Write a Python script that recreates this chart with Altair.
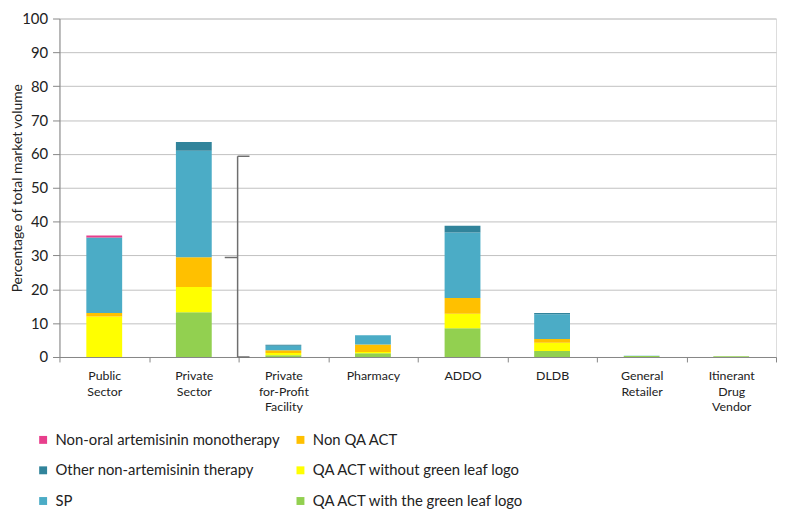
import altair as alt
import pandas as pd

categories = ["Public|Sector", "Private|Sector", "Private|for-Profit|Facility", "Pharmacy",
              "ADDO", "DLDB", "General|Retailer", "Itinerant|Drug|Vendor"]

qa_act_green = [0.0, 13.2, 0.5, 1.1, 8.5, 1.8, 0.3, 0.2]
qa_act_no_logo = [12.0, 7.5, 0.7, 0.4, 4.3, 2.4, 0.0, 0.0]
non_qa_act = [1.0, 8.8, 0.8, 2.2, 4.6, 1.1, 0.0, 0.0]
sp = [22.2, 31.4, 1.3, 2.7, 19.4, 7.3, 0.05, 0.0]
other_non_art = [0.1, 2.6, 0.3, 0.0, 2.0, 0.4, 0.0, 0.0]
non_oral_art = [0.6, 0.0, 0.0, 0.0, 0.0, 0.0, 0.0, 0.0]

series_names = ["QA ACT with the green leaf logo", "QA ACT without green leaf logo", "Non QA ACT",
                "SP", "Other non-artemisinin therapy", "Non-oral artemisinin monotherapy"]
series_values = [qa_act_green, qa_act_no_logo, non_qa_act, sp, other_non_art, non_oral_art]

legend_order = ["Non-oral artemisinin monotherapy", "Other non-artemisinin therapy", "SP",
                "Non QA ACT", "QA ACT without green leaf logo", "QA ACT with the green leaf logo"]
legend_colors = ["#E83E8C", "#31849B", "#4BACC6", "#FFC000", "#FFFF00", "#92D050"]

y_ticks = [0, 10, 20, 30, 40, 50, 60, 70, 80, 90, 100]

# brace annotation (data space y values)
brace_low, brace_mid, brace_high = 0.0, 29.4, 59.3

rows = []
for rank, (name, vals) in enumerate(zip(series_names, series_values)):
    for cat, v in zip(categories, vals):
        rows.append({"category": cat, "series": name, "value": v, "rank": rank})
df = pd.DataFrame(rows)

FONT = "Lato"

x_enc = alt.X("category:N", sort=categories,
              scale=alt.Scale(paddingInner=0, paddingOuter=0),
              axis=alt.Axis(title=None, labelAngle=0, labelExpr="split(datum.label, '|')",
                            labelFontSize=12.5, labelFont=FONT, labelColor="#222222",
                            labelLineHeight=15.5, labelPadding=8, labelBaseline="top",
                            labelOverlap=False, labelLimit=200,
                            tickBand="extent", tickSize=5, tickColor="#868686",
                            domainColor="#868686", grid=False))

y_axis = alt.Axis(title="Percentage of total market volume", values=y_ticks,
                  labelOverlap=False,
                  labelFontSize=15, labelFont=FONT, labelColor="#222222", labelPadding=5,
                  tickSize=7, tickColor="#868686", domainColor="#868686",
                  gridColor="#C0C0C0", titleFont=FONT, titleFontSize=14,
                  titleFontWeight="normal", titleColor="#222222",
                  titleX=-42, titleY=171, titleAlign="center", titleBaseline="middle")
y_scale = alt.Scale(domain=[0, 100], nice=False)

bars = alt.Chart(df).mark_bar(width=alt.RelativeBandSize(0.4)).encode(
    x=x_enc,
    y=alt.Y("value:Q", stack="zero", scale=y_scale, axis=y_axis),
    color=alt.Color("series:N", scale=alt.Scale(domain=legend_order, range=legend_colors),
                    legend=alt.Legend(title=None, orient="none", legendX=-24, legendY=418,
                                      columns=2, columnPadding=13, rowPadding=15,
                                      symbolType="square", symbolSize=64, symbolStrokeWidth=0,
                                      labelFont=FONT, labelFontSize=15, labelColor="#222222",
                                      labelLimit=400, labelOffset=5)),
    order=alt.Order("rank:Q", sort="ascending"),
)

brace_df = pd.DataFrame({"low": [brace_low], "mid": [brace_mid], "high": [brace_high]})
bc = "#6E6E6E"
base = alt.Chart(brace_df)
vert = base.mark_rule(color=bc, strokeWidth=1.5).encode(
    x=alt.value(180), y=alt.Y("low:Q", scale=y_scale, axis=y_axis), y2="high:Q")
top = base.mark_rule(color=bc, strokeWidth=1.5).encode(
    x=alt.value(180), x2=alt.value(192), y=alt.Y("high:Q", scale=y_scale, axis=y_axis))
bot = base.mark_rule(color=bc, strokeWidth=1.5).encode(
    x=alt.value(180), x2=alt.value(192), y=alt.Y("low:Q", scale=y_scale, axis=y_axis))
mid = base.mark_rule(color=bc, strokeWidth=1.5).encode(
    x=alt.value(167), x2=alt.value(180), y=alt.Y("mid:Q", scale=y_scale, axis=y_axis))

chart = alt.layer(bars, vert, top, bot, mid).properties(
    width=724, height=342,
    padding={"left": 52, "top": 8, "right": 1, "bottom": 156},
    autosize=alt.AutoSizeParams(type="none"),
).configure_view(stroke=None).configure(font=FONT)

chart.save("out.html", embed_options={"renderer": "svg", "actions": False})
